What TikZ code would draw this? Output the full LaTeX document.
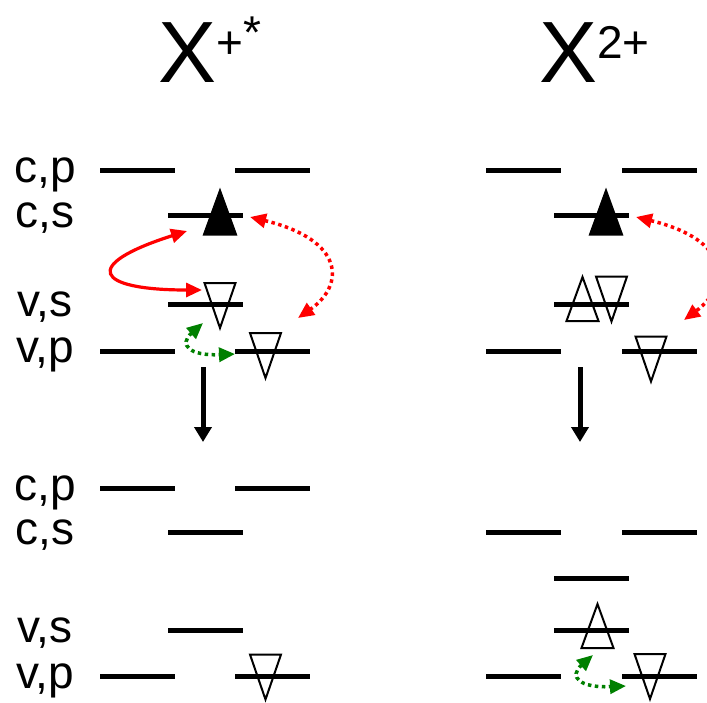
\documentclass[tikz,border=0pt]{standalone}
\usepackage{fontspec}
\setmainfont{Liberation Sans}
\usetikzlibrary{arrows.meta}
\begin{document}
\begin{tikzpicture}[x=1pt,y=-1pt,
  level/.style={line width=5pt},
  lab/.style={anchor=base,inner sep=0pt,font=\fontsize{46}{50}\selectfont},
  ttl/.style={anchor=base west,inner sep=0pt},
  tri/.style={line width=2pt,line join=miter},
  redsolid/.style={draw=red,line width=3.2pt,{Triangle[length=16pt,width=14pt]}-{Triangle[length=16pt,width=14pt]}},
  reddot/.style={draw=red,line width=3.5pt,dash pattern=on 3.5pt off 3.5pt,{Triangle[length=16pt,width=14pt]}-{Triangle[length=16pt,width=14pt]}},
  greendot/.style={draw=green!50!black,line width=3.5pt,dash pattern=on 3.5pt off 3.5pt,{Triangle[length=16pt,width=14pt]}-{Triangle[length=16pt,width=14pt]}},
  downarr/.style={draw=black,line width=5pt,-{Triangle[length=15pt,width=17pt]}},
  uptri/.pic={\draw[tri,pic actions] (-16,22) -- (0,-22) -- (16,22) -- cycle;},
  dntri/.pic={\draw[tri,pic actions] (-15.5,-22.5) -- (0,22.5) -- (15.5,-22.5) -- cycle;}
]
\useasboundingbox (0,0) rectangle (707,702);
\clip (0,0) rectangle (707,702);

% titles
\node[ttl] (t1) at (158,82) {\fontsize{87}{90}\selectfont X\raisebox{24pt}{\fontsize{46}{50}\selectfont +\raisebox{10pt}{*}}};
\node[ttl] (t2) at (539,82) {\fontsize{87}{90}\selectfont X\raisebox{24pt}{\fontsize{46}{50}\selectfont 2+}};

% labels
\node[lab] (l1) at (45,182) {c,p};
\node[lab] (l2) at (45,227) {c,s};
\node[lab] (l3) at (45,316) {v,s};
\node[lab] (l4) at (45,362) {v,p};
\node[lab] (l5) at (45,500) {c,p};
\node[lab] (l6) at (45,544) {c,s};
\node[lab] (l7) at (45,642) {v,s};
\node[lab] (l8) at (45,688) {v,p};

% ---------- left top ----------
\draw[level] (100,170) -- (175,170) (235,170) -- (310,170);
\draw[level] (168,215) -- (243,215);
\draw[level] (168,304) -- (243,304);
\draw[level] (100,351) -- (175,351) (235,351) -- (310,351);
\pic[fill=black] at (220,212.5) {uptri};
\pic at (220,305.5) {dntri};
\pic at (265.5,355.5) {dntri};

% ---------- left bottom ----------
\draw[level] (100,488) -- (175,488) (235,488) -- (310,488);
\draw[level] (168,532) -- (243,532);
\draw[level] (168,630) -- (243,630);
\draw[level] (100,676) -- (175,676) (235,676) -- (310,676);
\pic at (265.5,677) {dntri};

% ---------- right top ----------
\draw[level] (486,170) -- (561,170) (622,170) -- (697,170);
\draw[level] (554,215) -- (629,215);
\draw[level] (554,304) -- (629,304);
\draw[level] (486,351) -- (561,351) (622,351) -- (697,351);
\pic[fill=black] at (606,212.5) {uptri};
\pic at (582.5,299) {uptri};
\pic at (611.5,299) {dntri};
\pic at (651,359) {dntri};

% ---------- right bottom ----------
\draw[level] (486,532) -- (561,532) (622,532) -- (697,532);
\draw[level] (554,578) -- (629,578);
\draw[level] (554,630) -- (629,630);
\draw[level] (486,676) -- (561,676) (622,676) -- (697,676);
\pic at (597.5,626) {uptri};
\pic at (650,676.5) {dntri};

% arrow end points
\coordinate (rs1) at (187,231);
\coordinate (rs2) at (202,290);
\coordinate (rd1) at (250,217);
\coordinate (rd2) at (298,318);
\coordinate (g1) at (203,323);
\coordinate (g2) at (235,354);
\coordinate (d1) at (203,367);
\coordinate (d2) at (203,442);
\coordinate (rd3) at (636,217);
\coordinate (rd4) at (684,320);
\coordinate (d3) at (580,367);
\coordinate (d4) at (580,442);
\coordinate (g3) at (593,655);
\coordinate (g4) at (626,686);

\draw[redsolid] (rs1) .. controls (80,265) and (95,290) .. (rs2);
\draw[reddot] (rd1) .. controls (345,240) and (345,285) .. (rd2);
\draw[greendot] (g1) .. controls (178,345) and (190,356) .. (g2);
\draw[downarr] (d1) -- (d2);
\draw[reddot] (rd3) .. controls (731,240) and (731,285) .. (rd4);
\draw[downarr] (d3) -- (d4);
\draw[greendot] (g3) .. controls (568,677) and (580,688) .. (g4);
\end{tikzpicture}
\end{document}
